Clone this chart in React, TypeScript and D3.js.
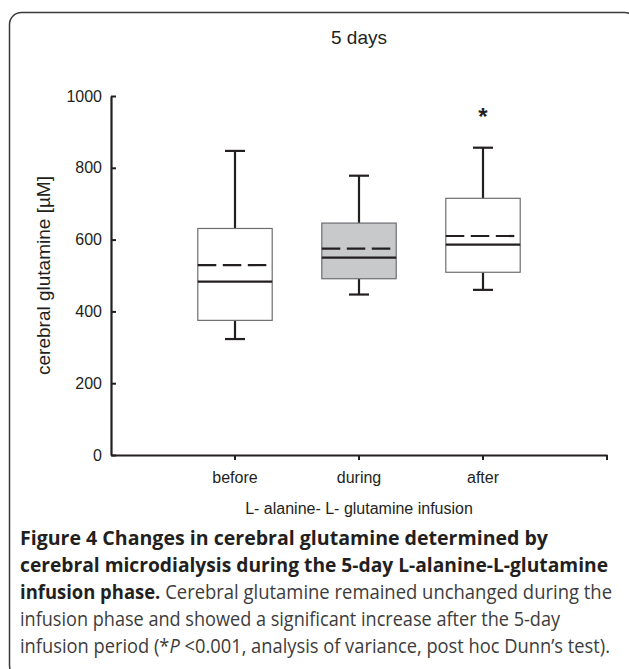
import React, { useEffect, useRef } from 'react';
import * as d3 from 'd3';

// box plot values (cerebral glutamine, µM)
const groups = ['before', 'during', 'after'];
const whiskerLow = [323, 447, 460];
const q1 = [375, 491, 509];
const medians = [483, 550, 586];
const means = [529, 575, 610];
const q3 = [631, 646, 715];
const whiskerHigh = [847, 778, 856];
const boxFills = ['#ffffff', '#c8c9cb', '#ffffff'];
const marks = ['', '', '*'];
const yTicks = [0, 200, 400, 600, 800, 1000];

const chartTitle = '5 days';
const yLabel = 'cerebral glutamine [µM]';
const xLabel = 'L- alanine- L- glutamine infusion';

interface CaptionPart { text: string; weight?: string; style?: string }
const captionLines: CaptionPart[][] = [
  [{ text: 'Figure 4 Changes in cerebral glutamine determined by', weight: 'bold' }],
  [{ text: 'cerebral microdialysis during the 5-day L-alanine-L-glutamine', weight: 'bold' }],
  [{ text: 'infusion phase.', weight: 'bold' }, { text: ' Cerebral glutamine remained unchanged during the' }],
  [{ text: 'infusion phase and showed a significant increase after the 5-day' }],
  [{ text: 'infusion period (*' }, { text: 'P', style: 'italic' }, { text: ' <0.001, analysis of variance, post hoc Dunn’s test).' }],
];
const captionWidths = [528, 588, 592, 540, 590];

const W = 629;
const H = 669;
const INK = '#231f20';

const App: React.FC = () => {
  const svgRef = useRef<SVGSVGElement>(null);

  useEffect(() => {
    const svg = d3.select(svgRef.current);
    svg.selectAll('*').remove();

    // plot area in page pixels
    const left = 111, right = 607, top = 96, bottom = 455;

    const x = d3.scaleBand<string>()
      .domain(groups)
      .range([left, right])
      .paddingInner(0)
      .paddingOuter(0.5);

    const y = d3.scaleLinear()
      .domain([0, 1000])
      .range([bottom, top]);

    // outer rounded frame (right and bottom run off the page)
    svg.append('rect')
      .attr('x', 9.5)
      .attr('y', 12.5)
      .attr('width', 627)
      .attr('height', 665)
      .attr('rx', 12)
      .attr('fill', 'none')
      .attr('stroke', '#3a3a3a')
      .attr('stroke-width', 1.5);

    const font = '"Liberation Sans", Arial, sans-serif';

    // title
    svg.append('text')
      .attr('x', (left + right) / 2)
      .attr('y', 44)
      .attr('text-anchor', 'middle')
      .style('font-family', font)
      .style('font-size', '19px')
      .style('fill', INK)
      .text(chartTitle);

    // y axis
    const yAxis = svg.append('g')
      .attr('transform', `translate(${left},0)`)
      .call(d3.axisLeft(y)
        .tickValues(yTicks)
        .tickSize(-5)
        .tickSizeOuter(0)
        .tickPadding(9)
        .tickFormat(d3.format('d')));
    yAxis.select('.domain').attr('stroke', INK).attr('stroke-width', 2.2);
    yAxis.selectAll('line').attr('stroke', INK).attr('stroke-width', 2);
    yAxis.selectAll('text')
      .style('font-family', font)
      .style('font-size', '16px')
      .style('fill', INK);

    // x axis
    const xAxis = svg.append('g')
      .attr('transform', `translate(0,${bottom})`)
      .call(d3.axisBottom(x)
        .tickSize(5)
        .tickSizeOuter(0)
        .tickPadding(12));
    xAxis.select('.domain').attr('stroke', INK).attr('stroke-width', 2.2);
    xAxis.selectAll('line').attr('stroke', INK).attr('stroke-width', 2);
    xAxis.selectAll('text')
      .style('font-family', font)
      .style('font-size', '16px')
      .style('fill', INK);
    xAxis.append('line')
      .attr('x1', x.range()[1])
      .attr('x2', x.range()[1])
      .attr('y1', 0)
      .attr('y2', 5)
      .attr('stroke', INK)
      .attr('stroke-width', 2);

    // axis labels
    svg.append('text')
      .attr('transform', `translate(50,${(top + bottom) / 2}) rotate(-90)`)
      .attr('text-anchor', 'middle')
      .style('font-family', font)
      .style('font-size', '19px')
      .style('fill', INK)
      .text(yLabel);

    svg.append('text')
      .attr('x', (left + right) / 2)
      .attr('y', 514)
      .attr('text-anchor', 'middle')
      .style('font-family', font)
      .style('font-size', '16px')
      .style('fill', INK)
      .text(xLabel);

    // boxes
    const cx = (g: string) => (x(g) || 0) + x.bandwidth() / 2;
    const boxW = x.bandwidth() * 0.6;
    const capW = 20;

    groups.forEach((g, i) => {
      const c = cx(g);
      const grp = svg.append('g');

      // whiskers
      grp.append('line')
        .attr('x1', c).attr('x2', c)
        .attr('y1', y(whiskerHigh[i])).attr('y2', y(q3[i]))
        .attr('stroke', INK).attr('stroke-width', 2.2);
      grp.append('line')
        .attr('x1', c).attr('x2', c)
        .attr('y1', y(q1[i])).attr('y2', y(whiskerLow[i]))
        .attr('stroke', INK).attr('stroke-width', 2.2);
      [whiskerHigh[i], whiskerLow[i]].forEach(v => {
        grp.append('line')
          .attr('x1', c - capW / 2).attr('x2', c + capW / 2)
          .attr('y1', y(v)).attr('y2', y(v))
          .attr('stroke', INK).attr('stroke-width', 2.2);
      });

      grp.append('rect')
        .attr('x', c - boxW / 2)
        .attr('y', y(q3[i]))
        .attr('width', boxW)
        .attr('height', y(q1[i]) - y(q3[i]))
        .attr('fill', boxFills[i])
        .attr('stroke', '#6d6e70')
        .attr('stroke-width', 1.2);

      // median
      grp.append('line')
        .attr('x1', c - boxW / 2).attr('x2', c + boxW / 2)
        .attr('y1', y(medians[i])).attr('y2', y(medians[i]))
        .attr('stroke', INK).attr('stroke-width', 2.2);

      // mean (dashed)
      grp.append('line')
        .attr('x1', c - boxW / 2).attr('x2', c + boxW / 2 - 5)
        .attr('y1', y(means[i])).attr('y2', y(means[i]))
        .attr('stroke', INK).attr('stroke-width', 2.2)
        .attr('stroke-dasharray', '18.5,6.5');

      if (marks[i]) {
        grp.append('text')
          .attr('x', c)
          .attr('y', y(whiskerHigh[i]) - 23)
          .attr('text-anchor', 'middle')
          .style('font-family', font)
          .style('font-size', '24px')
          .style('font-weight', 'bold')
          .style('fill', INK)
          .text(marks[i]);
      }
    });

    // figure caption
    captionLines.forEach((parts, li) => {
      const t = svg.append('text')
        .attr('x', 20)
        .attr('y', 545 + li * 27)
        .attr('textLength', captionWidths[li])
        .attr('lengthAdjust', 'spacingAndGlyphs')
        .style('font-family', '"Open Sans", "Noto Sans", sans-serif')
        .style('font-size', '19.5px');
      parts.forEach(p => {
        t.append('tspan')
          .style('font-weight', p.weight || 'normal')
          .style('font-style', p.style || 'normal')
          .style('fill', p.weight === 'bold' ? INK : '#3c3c3c')
          .text(p.text);
      });
    });
  }, []);

  return (
    <div style={{ position: 'absolute', left: 0, top: 0, width: W, height: H, background: '#fff' }}>
      <svg ref={svgRef} width={W} height={H} style={{ display: 'block', overflow: 'hidden' }} />
    </div>
  );
};

export default App;
